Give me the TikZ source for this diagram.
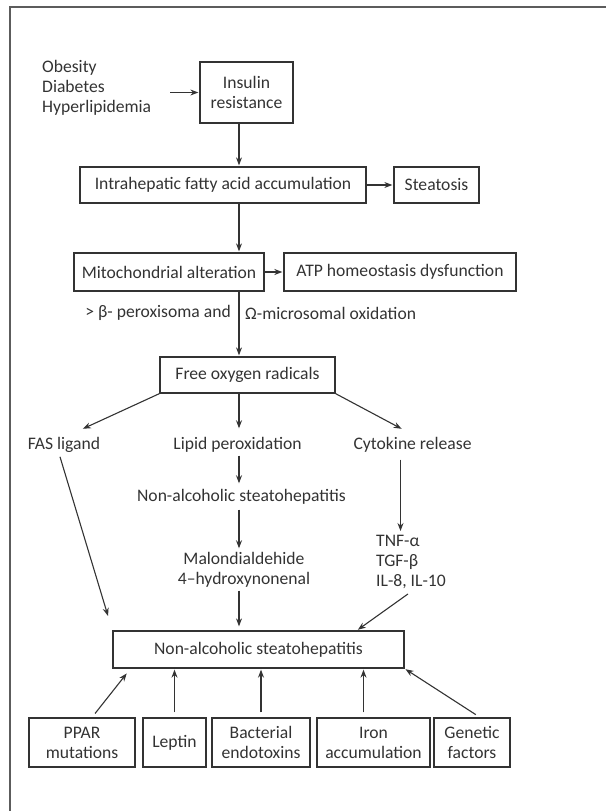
\documentclass[tikz,border=0pt]{standalone}
\usepackage{fontspec}
\setmainfont{Carlito}
\usepackage{tikz}
\usetikzlibrary{arrows.meta,calc}
\definecolor{ink}{HTML}{333333}

\tikzset{
  box/.style={draw=ink, line width=1.3pt, inner sep=0pt, align=center, text=ink},
  plain/.style={inner sep=1pt, align=center, text=ink},
  arr/.style={-{Stealth[length=8pt,width=6pt]}, draw=ink, line width=1.1pt, shorten >=1pt},
}

\begin{document}
\begin{tikzpicture}[x=1pt, y=-1pt, font=\fontsize{17.6}{20}\selectfont]
\useasboundingbox (0,0) rectangle (606,811);
\draw[ink!80, line width=2pt] (10,811) -- (10,7) -- (606,7);
\coordinate (mx) at (239,0);

\node[plain, align=left, anchor=west] (risk) at (41,88) {Obesity\\Diabetes\\Hyperlipidemia};
\node[box, minimum width=93pt, minimum height=61pt] (ins) at (246.5,92.5) {Insulin\\resistance};
\node[box, minimum width=286pt, minimum height=36pt] (ifa) at (223,185) {Intrahepatic fatty acid accumulation};
\node[box, minimum width=85pt, minimum height=36pt] (ste) at (436.5,185) {Steatosis};
\node[box, minimum width=190pt, minimum height=38pt] (mito) at (169,272) {Mitochondrial alteration};
\node[box, minimum width=232pt, minimum height=38pt] (atp) at (400,272) {ATP homeostasis dysfunction};
\node[plain, anchor=east] (perox) at (232,313) {> β- peroxisoma and};
\node[plain, anchor=west] (micro) at (244,313) {Ω-microsomal oxidation};
\node[box, minimum width=175pt, minimum height=36pt] (fox) at (247.5,375) {Free oxygen radicals};
\node[plain] (fas) at (64,445) {FAS ligand};
\node[plain] (lpo) at (237.5,445) {Lipid peroxidation};
\node[plain] (cyt) at (412.5,445) {Cytokine release};
\node[plain] (nash1) at (241.5,497) {Non-alcoholic steatohepatitis};
\node[plain] (mda) at (244,570) {Malondialdehide\\4--hydroxynonenal};
\node[plain, align=left, anchor=north west] (tnf) at (375,534) {TNF-α\\TGF-β\\IL-8, IL-10};
\node[box, minimum width=291pt, minimum height=37pt] (nash) at (258.5,649.5) {Non-alcoholic steatohepatitis};
\node[box, minimum width=106pt, minimum height=49pt] (ppar) at (82,742.5) {PPAR\\mutations};
\node[box, minimum width=63pt, minimum height=49pt] (lep) at (174.5,742.5) {Leptin};
\node[box, minimum width=98pt, minimum height=49pt] (bac) at (261,742.5) {Bacterial\\endotoxins};
\node[box, minimum width=113pt, minimum height=49pt] (iron) at (373.5,742.5) {Iron\\accumulation};
\node[box, minimum width=76pt, minimum height=49pt] (gen) at (472,742.5) {Genetic\\factors};

\draw[arr] ([xshift=18pt]risk.east |- ins.west) -- (ins.west);
\draw[arr] (ins.south -| mx) -- (ifa.north -| mx);
\draw[arr] (ifa.east) -- (ste.west);
\draw[arr] (ifa.south -| mx) -- (mito.north -| mx);
\draw[arr, line width=2pt] (mito.east) -- (atp.west);
\draw[arr] (mito.south -| mx) -- (fox.north -| mx);
\draw[arr] (fox.south west) -- ([xshift=18pt,yshift=7pt]fas.north);
\draw[arr] (fox.south -| mx) -- ([yshift=7pt]lpo.north -| mx);
\draw[arr] (fox.south east) -- ([xshift=-10pt,yshift=7pt]cyt.north);
\draw[arr] ([yshift=-2pt]lpo.south -| mx) -- ([yshift=4pt]nash1.north -| mx);
\draw[arr] ([yshift=-4pt]nash1.south -| mx) -- ([yshift=2pt]mda.north -| mx);
\draw[arr] ([xshift=-12pt,yshift=-6pt]cyt.south) -- ([xshift=-12pt,yshift=2pt]cyt.south |- tnf.north);
\draw[arr, shorten >=15pt] ([xshift=-4pt,yshift=-3pt]fas.south) -- (nash.north west);
\draw[arr] ([yshift=-2pt]mda.south -| mx) -- ([yshift=3pt]nash.north -| mx);
\draw[arr] ([xshift=-3pt,yshift=-4pt]tnf.south) -- ([xshift=357pt]nash.north -| 0,0);
\draw[arr, shorten <=5pt] ([xshift=10pt]ppar.north) -- ([xshift=15pt,yshift=-4pt]nash.south west);
\draw[arr, shorten <=5pt] (lep.north) -- (lep.north |- nash.south);
\draw[arr, shorten <=5pt] (bac.north) -- (bac.north |- nash.south);
\draw[arr, shorten <=5pt] ([xshift=-10pt]iron.north) -- ([xshift=-10pt]iron.north |- nash.south);
\draw[arr, shorten <=5pt] ([xshift=8pt]gen.north) -- (nash.south east);
\end{tikzpicture}
\end{document}
